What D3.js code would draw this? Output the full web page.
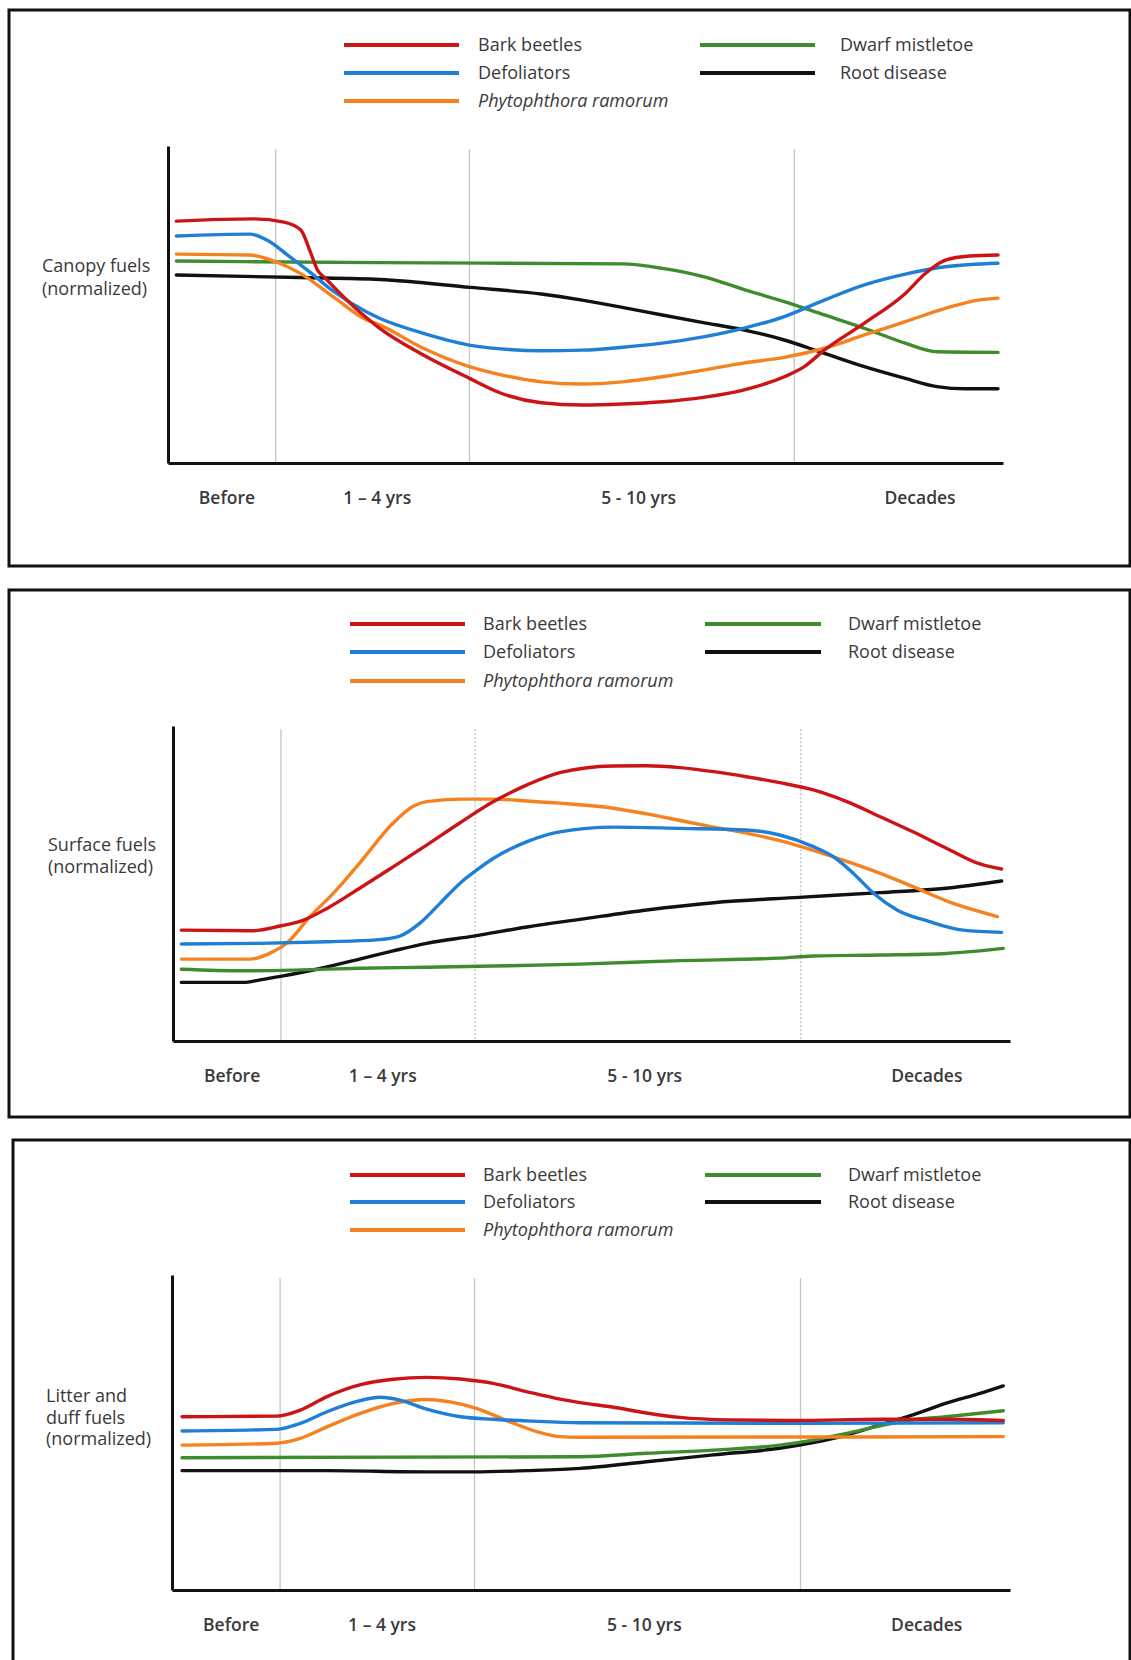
<!DOCTYPE html>
<html>
<head>
<meta charset="utf-8">
<script src="https://cdn.jsdelivr.net/npm/d3@7"></script>
<style>
  body { margin: 0; background: #fff; }
  svg { display: block; }
  text { font-family: "Open Sans", sans-serif; fill: #3a3a3a; }
</style>
</head>
<body>
<script>
// time position (0-100 along the x axis) / normalized fuel value (0-100)
const xTickLabels = ["Before", "1 \u2013 4 yrs", "5 - 10 yrs", "Decades"];
const xTickPos = [7, 25, 56.3, 90];
const phaseBreaks = [12.9, 36.1, 75.0];

const seriesNames = ["Bark beetles", "Defoliators", "Phytophthora ramorum", "Dwarf mistletoe", "Root disease"];
const panelTitles = [["Canopy fuels", "(normalized)"], ["Surface fuels", "(normalized)"], ["Litter and", "duff fuels", "(normalized)"]];

// canopy fuels
const canopyBark = [[1,76.3],[10.3,77],[13.9,76],[15.9,73.5],[17.1,66.2],[17.9,60.9],[18.8,58.4],[23.1,47.3],[25.4,42.4],[30.2,34.6],[36.1,26.7],[39.9,22],[44.7,19],[49.6,18.3],[54.4,18.6],[59.2,19.3],[64.1,20.7],[68.9,23],[73.8,27.2],[76.2,30.4],[78.6,35.6],[83.4,44.1],[88.3,53.5],[90.7,59.8],[93.1,64],[96,65.3],[99.4,65.6]];
const canopyDefol = [[1,71.6],[9.8,72.2],[11.9,70.3],[14.6,65],[17,60.2],[19.8,54.2],[23.8,47.6],[25.4,45.6],[30.2,41.2],[36.1,37.2],[39.9,36],[44.7,35.4],[49.6,35.6],[54.4,36.5],[59.2,37.8],[64.1,39.8],[68.9,42.5],[73.8,46.2],[78.6,51.4],[83.4,56.2],[88.3,59.6],[93.1,61.9],[99.4,63]];
const canopyPhyto = [[1,65.9],[9.8,65.6],[13,63.4],[15.8,59.9],[19.8,52.4],[23.8,45.1],[25.4,43.5],[30.2,36.7],[36.1,30.4],[39.9,27.8],[44.7,25.6],[49.6,24.9],[54.4,25.6],[59.2,27.2],[64.1,29.3],[68.9,31.5],[73.8,33.3],[78.6,36.2],[83.4,40.4],[88.3,44.6],[93.1,48.8],[97,51.4],[99.4,52]];
const canopyMistletoe = [[1,63.7],[25.4,63.2],[54.4,62.8],[59.2,61.4],[64.1,58.8],[68.9,54.8],[73.8,50.9],[78.6,46.7],[83.4,42.5],[88.3,37.8],[92.1,35.1],[99.4,34.9]];
const canopyRoot = [[1,59.3],[15.8,58.5],[25.4,57.9],[36.2,55.4],[44.7,53.3],[49.6,51.4],[54.4,49.1],[59.2,46.7],[64.1,44.3],[68.9,42],[73.8,38.8],[78.6,34.6],[83.4,30.4],[88.3,26.7],[92.1,24.1],[95.5,23.4],[99.4,23.4]];

// surface fuels
const surfaceBark = [[1,35.2],[9.6,35],[12.8,36.5],[15.6,38.4],[18.4,42.1],[22.3,48.5],[26.3,55.3],[30.3,62.2],[34.3,69.3],[38.3,76],[42.3,81.3],[46.2,85.2],[52.6,87.3],[56.6,87.4],[60.6,86.8],[64.6,85.5],[68.5,83.9],[72.5,82],[76.5,79.7],[80.5,76],[84.5,71.2],[88.4,66.4],[92.4,61.2],[96.4,56.2],[99,54.6]];
const surfaceDefol = [[1,30.8],[10.4,31],[18.4,31.5],[24.3,32.1],[27.1,33.3],[29.5,37.4],[31.9,43.7],[34.3,50.1],[36.3,54.3],[38.3,58],[42.3,63.3],[46.2,66.4],[52.6,67.9],[60.6,67.5],[68.5,67],[72.5,65.4],[76.5,61.7],[78.9,58.5],[81.3,53.2],[83.7,46.9],[86.5,41.6],[90.4,37.9],[94.4,35.2],[99,34.5]];
const surfacePhyto = [[1,26],[9.2,26],[11.6,27.9],[13.6,31.1],[16.4,39.6],[19.2,47],[22.3,56.5],[26.3,69.2],[28.7,74.5],[30.3,76],[34.3,76.8],[38.3,76.8],[42.3,76.2],[46.2,75.5],[52.6,73.9],[56.6,72.1],[60.6,70],[64.6,67.9],[68.5,66],[72.5,63.6],[76.5,60.5],[80.5,57],[84.5,53.2],[88.4,49],[92.4,44.5],[98.5,39.5]];
const surfaceMistletoe = [[1,22.8],[8.4,22.3],[14.4,22.5],[22.3,23.1],[30.3,23.4],[38.3,23.8],[48.6,24.4],[60.6,25.5],[72.5,26.3],[76.5,27],[84.5,27.3],[92.4,27.8],[96.4,28.6],[99.2,29.4]];
const surfaceRoot = [[1,18.6],[8.4,18.6],[10.4,19.4],[13,20.6],[18.4,23.5],[22.3,26],[26.3,28.6],[30.3,31],[35.9,33.3],[42.3,36.2],[48.6,38.6],[56.6,41.6],[64.6,43.9],[74.8,45.6],[84.5,47.1],[92.4,48.5],[99,50.8]];

// litter and duff fuels
const litterBark = [[1.2,55],[12.5,55.2],[15.3,57.1],[18.5,61.4],[22.4,65.1],[26.4,66.9],[30.4,67.5],[34.4,67],[38.3,65.6],[42.3,63],[46.3,60.6],[48.7,59.5],[52.7,58],[56.6,56.2],[60.6,54.8],[66.6,54],[74.6,53.8],[84.5,54.2],[92.5,54.2],[99.2,53.8]];
const litterDefol = [[1.2,50.5],[12.5,51],[15.3,52.9],[18.5,56.6],[22.4,60.1],[24.8,61.2],[27.2,60.3],[30.4,57.4],[34.4,55],[38.3,54.2],[42.3,53.7],[48.7,53.1],[74.6,52.9],[99.2,53.1]];
const litterPhyto = [[1.2,46],[12.5,46.6],[15.3,48.1],[18.5,51.8],[22.4,56],[26.4,59.2],[30.4,60.5],[33.2,59.7],[36.4,57.6],[40.3,53.4],[44.3,49.7],[46.3,48.7],[48.7,48.5],[99.2,48.7]];
const litterMistletoe = [[1.2,42],[48.7,42.3],[56.6,43.4],[64.6,44.4],[72.5,46],[76.5,47.6],[80.5,49.7],[84.5,52.1],[88.4,54],[92.4,55],[99.2,56.9]];
const litterRoot = [[1.2,37.9],[18.5,37.9],[30.4,37.5],[36,37.5],[42.3,37.9],[48.7,38.6],[56.6,40.7],[64.6,42.9],[72.5,45],[76.5,46.8],[80.5,49.2],[84.5,52.4],[88.4,55.6],[92.4,59.3],[96.4,62.4],[99.2,64.8]];

const panelSeries = [
  [canopyBark, canopyDefol, canopyPhyto, canopyMistletoe, canopyRoot],
  [surfaceBark, surfaceDefol, surfacePhyto, surfaceMistletoe, surfaceRoot],
  [litterBark, litterDefol, litterPhyto, litterMistletoe, litterRoot]
];

const colors = ["#cc1417", "#1f7fd6", "#f5821f", "#3f8c2e", "#111111"];

// page layout for the three stacked frames
const layout = [
  {frame: [9, 10, 1130, 566], left: 168, right: 1003, top: 146, bottom: 463, legY: [45, 73, 101],
   legLine: [[344, 459], [700, 815]], legText: [478, 840], titleX: 42, titleY: [266, 289], dashed: false},
  {frame: [9, 590, 1130, 1117], left: 173, right: 1010, top: 726, bottom: 1041, legY: [624, 652, 681],
   legLine: [[350, 465], [705, 821]], legText: [483, 848], titleX: 48, titleY: [845, 867], dashed: true},
  {frame: [13, 1140, 1130, 1680], left: 172, right: 1010, top: 1275, bottom: 1590, legY: [1175, 1202, 1230],
   legLine: [[350, 465], [705, 821]], legText: [483, 848], titleX: 46, titleY: [1396, 1418, 1439], dashed: false}
];

function init() {
  var svg = d3.select("body").append("svg")
    .attr("width", 1131)
    .attr("height", 1660);

  layout.forEach(function(L, p) {
    var g = svg.append("g");

    g.append("rect")
      .attr("x", L.frame[0]).attr("y", L.frame[1])
      .attr("width", L.frame[2] - L.frame[0]).attr("height", L.frame[3] - L.frame[1])
      .attr("fill", "#fff").attr("stroke", "#111").attr("stroke-width", 3);

    var x = d3.scaleLinear().domain([0, 100]).range([L.left, L.right]);
    var y = d3.scaleLinear().domain([0, 100]).range([L.bottom, L.top]);

    // phase separators
    g.selectAll(".phase")
      .data(phaseBreaks)
      .enter().append("line")
      .attr("x1", d => x(d)).attr("x2", d => x(d))
      .attr("y1", y(99)).attr("y2", y(0))
      .attr("stroke", "#c4c4c4").attr("stroke-width", 1.3)
      .attr("stroke-dasharray", (d, i) => (L.dashed && i > 0) ? "2,2" : null);

    // axes
    var xAxis = g.append("g")
      .attr("transform", "translate(0," + L.bottom + ")")
      .call(d3.axisBottom(x)
        .tickValues(xTickPos)
        .tickFormat((d, i) => xTickLabels[i])
        .tickSize(0).tickPadding(29));
    xAxis.select(".domain").attr("stroke", "#111").attr("stroke-width", 3);
    xAxis.selectAll("text")
      .style("font-family", '"Open Sans", sans-serif')
      .style("font-size", "17.5px").style("font-weight", 600).attr("fill", "#3a3a3a");

    var yAxis = g.append("g")
      .attr("transform", "translate(" + L.left + ",0)")
      .call(d3.axisLeft(y).ticks(0).tickSize(0));
    yAxis.select(".domain").attr("stroke", "#111").attr("stroke-width", 3);

    // series lines
    var line = d3.line()
      .x(d => x(d[0]))
      .y(d => y(d[1]))
      .curve(d3.curveMonotoneX);

    var order = [4, 3, 2, 1, 0];
    order.forEach(function(i) {
      g.append("path")
        .datum(panelSeries[p][i])
        .attr("d", line)
        .attr("fill", "none")
        .attr("stroke", colors[i])
        .attr("stroke-width", 3.4)
        .attr("stroke-linejoin", "round")
        .attr("stroke-linecap", "round");
    });

    // panel title
    g.append("text")
      .attr("x", L.titleX)
      .selectAll("tspan")
      .data(panelTitles[p])
      .enter().append("tspan")
      .attr("x", L.titleX)
      .attr("y", (d, i) => L.titleY[i])
      .attr("dy", "0.35em")
      .style("font-size", "18px")
      .text(d => d);

    // legend
    seriesNames.forEach(function(name, i) {
      var col = i < 3 ? 0 : 1;
      var row = i < 3 ? i : i - 3;
      var ly = L.legY[row];
      g.append("line")
        .attr("x1", L.legLine[col][0]).attr("x2", L.legLine[col][1])
        .attr("y1", ly).attr("y2", ly)
        .attr("stroke", colors[i]).attr("stroke-width", 4);
      g.append("text")
        .attr("x", L.legText[col]).attr("y", ly)
        .attr("dy", "0.35em")
        .style("font-size", "18px")
        .style("font-style", i == 2 ? "italic" : "normal")
        .text(name);
    });
  });
}
window.onload = init;
</script>
</body>
</html>
